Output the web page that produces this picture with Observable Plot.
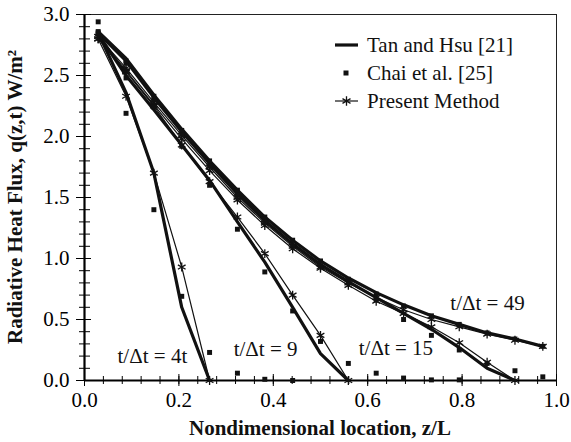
<!DOCTYPE html>
<html><head><meta charset="utf-8">
<script src="https://cdn.jsdelivr.net/npm/d3@7"></script>
<script src="https://cdn.jsdelivr.net/npm/@observablehq/plot@0.6"></script>
<style>body{margin:0;background:#fff} svg text{font-family:'Liberation Serif','Times New Roman',serif;}</style>
</head><body><div id="chart"></div>
<script>
// Nondimensional locations z/L of the computed nodes
const zNodes = [0.029,0.088,0.147,0.206,0.265,0.324,0.382,0.441,0.500,0.559,0.618,0.676,0.735,0.794,0.853,0.912,0.971];

// Tan and Hsu [21] (thick line)
const tan4  = [2.85,2.36,1.70,0.60,0.00];
const tan9  = [2.84,2.50,2.22,1.93,1.64,1.30,0.97,0.60,0.22,0.00];
const tan15 = [2.85,2.62,2.32,2.04,1.78,1.53,1.31,1.12,0.95,0.81,0.68,0.55,0.42,0.27,0.10,0.00];
const tan49 = [2.86,2.64,2.34,2.06,1.80,1.56,1.34,1.15,0.98,0.84,0.72,0.62,0.53,0.46,0.39,0.34,0.28];

// Chai et al. [25] (squares)
const chai4  = [2.94,2.19,1.40,0.69,0.23,0.06,0.01,0.00];
const chai9  = [2.84,2.48,2.24,1.92,1.60,1.24,0.89,0.57,0.32,0.14,0.06,0.02,0.005,0.005];
const chai15 = [2.85,2.60,2.30,2.02,1.76,1.52,1.30,1.10,0.94,0.80,0.66,0.50,0.37,0.25,0.14,0.08,0.03];
const chai49 = [2.86,2.62,2.33,2.05,1.80,1.56,1.34,1.15,0.98,0.83,0.71,0.61,0.53,0.46,0.39,0.34,0.28];

// Present Method (thin line with asterisks)
const pres4  = [2.80,2.33,1.70,0.93,0.00];
const pres9  = [2.80,2.53,2.25,1.93,1.63,1.34,1.04,0.70,0.37,0.00];
const pres15 = [2.82,2.54,2.26,1.98,1.72,1.48,1.27,1.08,0.92,0.78,0.65,0.55,0.44,0.31,0.15,0.00];
const pres49 = [2.82,2.56,2.28,2.01,1.75,1.50,1.29,1.10,0.93,0.80,0.68,0.58,0.50,0.44,0.38,0.33,0.28];

// Tick labels
const xMajor = [0,0.2,0.4,0.6,0.8,1.0];
const yMajor = [0,0.5,1.0,1.5,2.0,2.5,3.0];
const xMinor = d3.range(0, 1.0001, 0.04);
const yMinor = d3.range(0, 3.0001, 0.1);

// Curve annotations
const annLabels = ["t/\u0394t = 4t","t/\u0394t = 9","t/\u0394t = 15","t/\u0394t = 49"];
const annZ = [0.07,0.316,0.581,0.775];
const annQ = [0.14,0.197,0.205,0.58];

const legendNames = ["Tan and Hsu [21]","Chai et al. [25]","Present Method"];

function rows(vals, t){ return vals.map((q,i)=>({z:zNodes[i], q, t})); }
const tanRows  = [...rows(tan4,4),...rows(tan9,9),...rows(tan15,15),...rows(tan49,49)];
const chaiRows = [...rows(chai4,4),...rows(chai9,9),...rows(chai15,15),...rows(chai49,49)];
const presRows = [...rows(pres4,4),...rows(pres9,9),...rows(pres15,15),...rows(pres49,49)];
const annRows = annLabels.map((s,i)=>({s, z:annZ[i], q:annQ[i]}));

const FONT = "'Liberation Serif', 'Times New Roman', serif";

const plot = Plot.plot({
  width: 571, height: 442,
  marginLeft: 84, marginRight: 15, marginTop: 14, marginBottom: 62,
  style: {fontFamily: FONT, fontSize: "21px", color: "black", background: "white"},
  x: {domain: [0,1]},
  y: {domain: [0,3]},
  marks: [
    Plot.frame({stroke: "#222", strokeWidth: 1}),
    Plot.axisX({ticks: xMajor, tickSize: 6, tickPadding: 6, tickFormat: d3.format(".1f"), label: null, fontSize: 21}),
    Plot.axisX({ticks: xMajor, tickSize: -6, text: null, label: null}),
    Plot.axisX({ticks: xMinor, tickSize: 4, text: null, label: null}),
    Plot.axisX({ticks: xMinor, tickSize: -4, text: null, label: null}),
    Plot.axisY({ticks: yMajor, tickSize: 8, tickPadding: 7, tickFormat: d3.format(".1f"), label: null, fontSize: 21}),
    Plot.axisY({ticks: yMajor, tickSize: -7, text: null, label: null}),
    Plot.axisY({ticks: yMinor, tickSize: 5, text: null, label: null}),
    Plot.axisY({ticks: yMinor, tickSize: -6, text: null, label: null}),
    Plot.ruleX([0], {stroke: "black", strokeWidth: 2.2}),
    Plot.ruleY([0], {stroke: "black", strokeWidth: 2.2}),
    Plot.line(tanRows, {x: "z", y: "q", z: "t", stroke: "#111", strokeWidth: 3.2}),
    Plot.line(presRows, {x: "z", y: "q", z: "t", stroke: "#111", strokeWidth: 1.2}),
    Plot.dot(presRows, {x: "z", y: "q", symbol: "asterisk", r: 4.2, stroke: "#111", strokeWidth: 1.3}),
    Plot.dot(chaiRows, {x: "z", y: "q", symbol: "square", r: 2.8, fill: "#111", stroke: "none"}),
    Plot.text(annRows, {x: "z", y: "q", text: "s", textAnchor: "start", lineAnchor: "bottom", fontSize: 21, fill: "#111"})
  ]
});
document.getElementById("chart").appendChild(plot);

const svg = d3.select(plot);
// Legend
const lg = svg.append("g").attr("fill", "#111");
const rowY = [45, 73, 101];
lg.append("line").attr("x1", 335).attr("x2", 358).attr("y1", rowY[0]).attr("y2", rowY[0]).attr("stroke", "#111").attr("stroke-width", 3.2);
lg.append("rect").attr("x", 343.5).attr("y", rowY[1]-2.5).attr("width", 5).attr("height", 5).attr("fill", "#111");
lg.append("line").attr("x1", 335).attr("x2", 358).attr("y1", rowY[2]).attr("y2", rowY[2]).attr("stroke", "#111").attr("stroke-width", 1.2);
lg.append("path").attr("transform", `translate(346.5,${rowY[2]})`).attr("d", d3.symbol(d3.symbolAsterisk, 60)()).attr("fill", "none").attr("stroke", "#111").attr("stroke-width", 1.3);
legendNames.forEach((n,i)=>{
  lg.append("text").attr("x", 367).attr("y", rowY[i]).attr("dy", "0.33em")
    .attr("text-anchor", "start")
    .style("font-family", FONT).style("font-size", "21px")
    .text(n);
});
// Axis titles
svg.append("text").attr("x", 320).attr("y", 435).attr("text-anchor", "middle")
  .style("font-family", FONT).style("font-size", "21px").style("font-weight", "bold").attr("fill", "#111")
  .text("Nondimensional location, z/L");
svg.append("text").attr("transform", "translate(22,197) rotate(-90)").attr("text-anchor", "middle")
  .style("font-family", FONT).style("font-size", "21px").style("font-weight", "bold").attr("fill", "#111")
  .text("Radiative Heat Flux, q(z,t) W/m\u00B2");
</script>
</body></html>
